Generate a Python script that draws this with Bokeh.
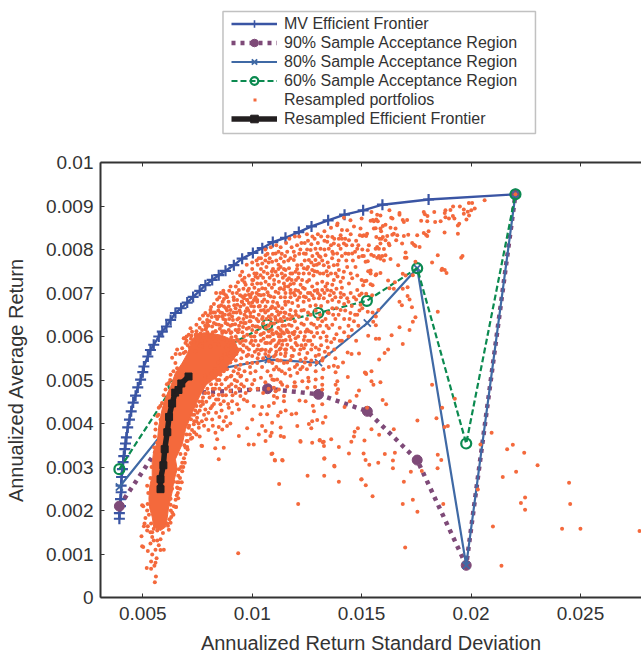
from bokeh.plotting import figure
from bokeh.embed import file_html
from bokeh.resources import INLINE
from bokeh.layouts import column
from bokeh.models import Range1d, LinearAxis, FixedTicker, Legend, LegendItem, BoxAnnotation

MV_X = [393,393,398,398,401,401,403,407,410,413,418,421,425,431,439,447,456,467,477,490,500,505,523,535,550,573,589,608,627,649,675,703,730,760,786,817,847,878,916,954,1003,1046,1094,1152,1213,1271,1347,1422,1507,1595,1806,2203]
MV_Y = [181,194,210,226,242,257,277,295,311,325,341,354,368,391,409,428,448,464,483,501,518,531,554,569,581,600,611,623,638,654,665,678,691,705,718,730,741,751,764,779,792,803,817,827,840,853,867,880,890,903,915,927]
S90_X = [393,627,730,1070,1303,1526,1754,1978,2203]
S90_Y = [210,386,470,480,467,428,316,74,927]
S80_X = [393,640,718,832,1074,1303,1526,1754,1978,2203]
S80_Y = [254,409,467,524,547,540,631,757,74,927]
S60_X = [393,640,832,1069,1302,1524,1754,1978,2203]
S60_Y = [295,487,563,627,654,682,757,354,927]
REF_X = [581,581,594,600,612,620,634,648,663,676,709]
REF_Y = [249,272,304,341,380,415,446,471,477,492,508]

# Outline of the part of the cloud where the dots merge completely.
CORE_X = [581,550,543,532,528,532,543,543,550,566,573,588,604,627,649,680,703,725,745,800,860,920,940,900,860,790,760,725,695,680,649,657,642,634,619,611,604]
CORE_Y = [154,162,185,204,227,257,280,310,337,356,394,432,459,485,516,539,560,590,607,608,603,590,565,539,516,489,463,424,386,352,318,295,268,242,211,181,162]

PORTFOLIOS = [
(1822,489),(1926,457),(1868,436),(1842,412),(1755,407),(1894,394),(1879,392),(2094,379),(2043,352),(2165,341),(2191,351),(2243,333),(1848,328),(1864,316),(2304,304),(1847,297),(2206,289),(2145,277),(2448,264),(2031,248),(2247,230),(2228,217),(2247,202),(2453,215),(1873,215),(2100,163),(2416,158),(2500,158),(2770,153),(2139,73),(1699,115),(1755,197),(1734,225),(1688,215),(1693,266),(1725,289),(1775,291),(1643,297),(1652,333),(1643,315),(1606,330),(1576,310),(1535,305),(1518,316),(1509,331),(1513,361),(1580,374),(1545,387),(1647,387),(1612,444),(1596,454),(1586,495),(1554,489),(1545,497),(1545,520),(1518,516),(1550,233),(1519,258),(1500,272),(1525,436),
(2062,913),(1990,907),(2005,907),(2017,894),(2001,890),(1967,892),(1949,899),(1918,899),(1883,890),(1906,891),(1880,884),(1832,886),(1784,886),(1789,881),(1801,877),(1772,866),(1800,865),(1836,863),(1861,865),(1883,874),(1899,871),(1917,877),(1924,871),(1967,882),(1985,887),(1991,878),(1979,869),(1946,859),(1940,855),(1940,836),(1879,839),(1806,842),(1784,838),(1794,834),(1754,833),(1800,831),(1713,834),(1765,806),(1746,808),(1731,815),(1739,811),(1701,793),(1705,781),(1698,781),(1667,764),(1746,772),(1848,787),(1822,770),(1961,785),(1955,781),(1868,756),(1865,753),(1880,753),(1888,746),(1688,744),(1701,740),(1734,741),(1621,729),(1652,725),(1627,711),(1647,710),(1688,710),(1710,713),(1710,693),(1719,685),(1730,667),(1673,680),(1684,672),(1848,657),(1746,644),(1734,634),(1719,615),(1673,621),(1688,583),(1621,570),(1605,562),(1580,547),(1637,603),(1565,595),(1580,595),(1530,602),(1565,626),(1550,655),(1528,657),(1577,661),(1565,646),(1553,634),
(1673,884),(1673,880),(1688,868),(1708,868),(1693,863),(1641,871),(1635,873),(1627,890),(1586,878),(1571,880),(1567,869),(1545,886),(1551,868),(1541,866),(1556,865),(1574,865),(1500,871),(1564,849),(1597,854),(1609,857),(1586,848),(1589,842),(1556,848),(1525,836),(1510,833),(1503,831),(1495,848),(1521,831),(1632,850),(1655,848),(1685,814),(1658,821),(1640,834),(1647,836),(1663,833),(1693,831),(1617,831),(1597,829),(1591,825),(1582,825),(1567,829),(1624,814),(1627,810),(1609,821),(1586,814),(1571,806),(1564,802),(1579,802),(1602,801),(1533,810),(1503,800),(1503,785),(1528,798),(1510,785),(1544,788),(1556,785),(1579,785),(1594,785),(1609,787),(1571,781),(1586,779),(1602,775),(1528,773),(1518,772),(1632,778),(1541,752),(1530,750),(1541,745),(1567,743),(1586,746),(1564,741),(1500,730),(1513,727),(1522,728),(1507,718),(1541,720),(1550,718),(1500,699),(1521,698),(1548,695),(1503,665),
(1436,563),(1454,560),(1488,561),(1373,533),(1392,530),(1381,518),(1437,507),(1515,517),(1521,514),(1389,497),(1381,489),(1320,505),(1290,501),(1256,505),(1258,497),(1252,482),(1229,497),(1194,495),(1198,485),(1332,565),(1323,550),(1305,558),(1361,587),(1320,489),(1320,478),(1287,484),(1392,479),(1386,470),(1488,476),(1477,464),(1446,451),(1422,438),(1320,444),(1277,441),(1282,428),(1244,451),(1216,453),(1180,421),(1201,423),(1153,430),(1130,426),(1118,418),(1099,447),(1145,451),(1335,415),(1323,402),(1297,408),(1274,405),(1259,399),(1206,394),(1130,391),(1270,389),(1130,371),(1145,369),(1089,379),(1221,358),(1274,356),(1308,361),(1323,357),(1328,348),(1361,364),(1396,346),(1453,358),(1465,370),(1468,381),(1483,389),(1442,331),(1329,319),(1375,303),(1329,280),(1253,280),(1092,331),(1104,315),(1139,315),
(1092,607),(1114,607),(1145,607),(1160,611),(1194,611),(1244,611),(1282,600),(1236,592),(1198,596),(1175,592),(1153,592),(1137,581),(1122,600),(1099,592),(1107,577),(1130,573),(1160,581),(1198,585),(1191,569),(1244,581),(1274,581),(1236,573),(1252,562),(1244,550),(1221,546),(1175,546),(1145,539),(1114,546),(1092,539),(1107,558),(1130,560),(1153,562),(1122,524),(1206,516),(1092,501),(1114,501),(1137,489),(1191,485),(1099,482),(1122,478),(1160,485),(1099,463),(1145,463),(1107,474),
(1388,856),(1419,873),(1449,867),(1465,853),(1492,833),(1434,844),(1404,833),(1366,829),(1343,818),(1373,814),(1396,825),(1442,821),(1457,810),(1480,802),(1487,783),(1457,791),(1419,814),(1404,802),(1426,791),(1388,791),(1366,795),(1350,802),(1335,787),(1312,802),(1289,802),(1297,791),(1267,799),(1251,800),(1236,791),(1259,776),(1289,776),(1312,783),(1305,768),(1282,764),(1274,753),(1297,749),(1327,764),(1350,760),(1373,764),(1396,753),(1419,749),(1381,745),(1434,760),(1472,760),(1457,734),(1442,722),(1404,726),(1373,730),(1366,719),(1343,722),(1320,726),(1297,722),(1274,715),(1297,707),(1320,707),(1343,707),(1373,700),(1404,700),(1419,696),(1480,707),(1495,673),(1434,688),(1396,680),(1366,684),(1327,688),(1305,688),(1282,688),(1259,684),(1236,692),(1251,726),(1228,730),(1213,745),(1236,757),(1206,764),(1190,776),(1175,780),(1145,772),(1130,760),(1152,753),(1107,749),(1091,741),(1107,791),(1091,772),(1061,787),(1046,768),(1053,749),(1038,741),(1015,738),(954,749),(954,730),(970,719),(1000,730),(1023,722),(1046,711),(1030,707),(1061,726),(1076,719),(1122,726),(1145,722),(1168,734),(1183,745),(1168,757),(1198,749),(1221,719),(1198,707),(1175,707),(1152,700),(1130,711),(1107,703),(1084,692),(1206,684),(1183,677),(1152,673),(1137,665),(1175,661),(1198,658),(1236,661),(1267,650),(1213,646),(1183,646),(1152,654),(1236,627),(1251,616),(1282,627),(1320,635),(1350,654),(1366,665),(1404,661),(1449,654),(1465,635),(1366,627),(1350,619),(1297,608),(1259,612),(1312,597),(1183,608),(1206,619),(1168,627),(1137,635),(1107,639),(1076,646),(1053,661),(1030,669),(1008,669),(1008,684),(1030,696),(1053,696),(985,696),(954,692),(916,684),(901,715),(939,707),(855,700),(871,686),(893,669),(924,665),(962,673),(985,677),(947,654),(970,658),(992,654),(1030,650),(1061,669),(1091,669),(1114,677),(1114,658),(848,669),(871,669),(810,654),(794,631),(833,646),(863,654),(893,650),(932,639),(909,627),(878,631),(848,627),(817,623),(787,616),(833,612),(863,612),(901,608),(939,616),(970,631),(992,635),(1015,623),(962,600),(1076,612),(1038,604),(962,688),(977,684),(992,690),(1015,690),(1000,678),(1023,684),(1046,680),(954,680),(977,665),(1008,658),(932,673),
(725,611),(687,596),(695,585),(680,573),(649,539),(657,527),(627,512),(619,493),(604,478),(588,447),(573,436),(566,417),(581,409),(558,386),(566,356),(710,604),(741,604),(764,607),(946,535),(977,539),(1000,539),(1038,569),(1061,569),(1083,585),(1099,554),(1076,543),(1099,524),(1023,539),(992,516),(946,508),(901,508),(878,501),(855,512),(893,485),(931,497),(962,485),(992,478),(962,455),(977,451),(946,463),(924,470),(908,451),(931,444),(893,436),(870,451),(847,466),(855,444),(817,440),(771,451),(786,432),(817,409),(748,413),(733,398),(710,390),(756,390),(726,367),(703,346),(771,348),(832,379),(847,392),(863,386),(885,394),(908,424),(939,432),(939,371),(977,389),(1038,421),(1068,421),(1000,409),(1045,394),(1030,375),(1061,383),(1091,402),(1114,459),(1076,440),(1045,438),(1007,440),(984,352),(1061,360),(840,364),(870,344),(1007,352),(1083,371),
(936,102),(1210,215),(1123,261),(1396,266),(1376,301),(1330,320),(847,318),(831,343),(768,349),(1103,316),(1137,316),(1088,330),(1220,360),(1309,362),(1327,358),(1498,271),(662,228),(651,208),(657,265),(660,251),(497,212),
(672,330),(665,295),(642,266),(665,265),(657,253),(634,250),(627,227),(652,208),(627,213),(627,172),(619,156),(592,148),(566,154),(523,164),(505,164),(508,170),(512,183),(520,200),(502,210),(520,257),(494,141),(497,118),(502,116),(523,107),(543,99),(558,110),(581,109),(596,110),(573,120),(566,131),(581,134),(543,139),(550,131),(535,124),(563,90),(538,83),(558,80),(553,73),(518,68),(538,66),(560,48),(555,35),(543,150),(520,154),(535,150),(550,158),
(692,596),(718,619),(745,627),(786,654),(809,661),(847,669),(870,699),(863,646),(901,661),(931,684),(748,585),(771,615),(794,638),(825,631),(847,646),(878,638),(908,646),(939,642),(946,669),(977,684),(992,695),(1023,680),(802,600),(832,612),(863,608),(893,615),(924,615),(962,631),(992,646),(718,585),(657,570),(687,562),(634,551),(741,566),(771,577),(809,577),(847,581),(885,589),(931,593),(977,604),(1023,623),(1053,608),(992,585),(946,570),(901,562),(1023,570),
(760,640),(775,648),(815,645),(830,655),(840,640),(855,655),(875,650),(885,660),(895,640),(915,655),(925,600),(940,625),(955,610),(960,640),(975,645),(985,620),(1000,615),(1010,600),(1020,640),(1035,620),(1050,630),(1065,640),(1070,600),(1090,615),(1100,630),(1120,620),(800,625),(820,610),(840,600),(860,625),(880,610),(900,625),(915,590),(935,570),(955,590),(975,575),(995,600),(1015,590),(1040,590),(1060,585),(1080,600),(1120,585),(1140,610),(1160,640),(1180,625),(1120,650),(1090,650),(1040,660),(1000,700),(960,710),(930,700),(910,700),(885,690),(865,680),(840,685),(825,675),(1070,680),(1100,690),(1130,690),(1150,690),(1165,680),(1190,700),(1220,700),(1240,710),(1260,730),(1280,740),(1325,745),(1345,740),(1150,740),(1100,730),(1060,710),(1080,735),(1020,745),(1000,755),(975,765),(1025,765),(1075,770),(1130,780),(1160,795),(1215,790),(1240,775),(1260,745),(1200,730),(1175,720),
(980,705),(1010,712),(1040,722),(1070,702),(1090,712),(1120,700),(1145,708),(1165,715),(1190,722),(1210,705),(1232,712),(1255,700),(1275,695),(1300,700),(1330,700),(1355,695),(1385,710),(1410,712),(1450,700),(1010,745),(1040,755),(1065,760),(1095,755),(1120,765),(1145,755),(1175,745),(1205,755),(1225,765),(1255,760),(1285,750),(1310,745),(1340,750),(1360,745),(1390,738),(1415,735),(1450,745),(1480,740),(1080,780),(1110,775),(1135,790),(1165,775),(1195,785),(1220,800),(1245,790),(1275,785),(1305,785),(1330,800),(1365,780),(1395,775),(1430,775),(1460,775),(1180,805),(1205,810),(1240,815),(1270,812),(1300,815),(1330,820),(1360,810),(1395,810),(1425,825),(1450,835),(1475,820),(1410,845),(1120,670),(1150,680),(1175,690),(1210,670),(1235,680),(1265,670),(1290,672),(1315,670),(1345,680),(1385,665),(1420,675),(1455,670),(1475,685),(1085,630),(1130,640),(1150,625),(1175,640),(1195,635),(1225,630),(1250,640),(1270,630),(1300,640),(1335,640),(1380,640),(1420,640),(1440,625),(1400,620),(1210,600),(1225,580),(1265,590),(1290,575),(1315,580),(1345,575),(1375,570),(1410,590),(1440,600),(1475,590),(1110,530),(1135,520),(1170,525),(1195,530),(1220,525),(1250,525),(1290,520),(1325,525),(1350,530),(1205,535),
(900,540),(925,545),(950,550),(975,555),(1000,555),(1025,550),(1050,550),(1075,555),(1120,545),(860,530),(885,525),(915,520),(940,525),(965,520),(990,530),(1015,520),(1045,530),(1070,520),(1085,510),(840,500),(860,490),(880,480),(905,490),(925,485),(950,490),(975,500),(1010,500),(1040,505),(1060,495),(830,480),(850,480),(800,470),(820,465),(835,455),(785,470),(765,440),(780,420),(800,425),(745,440),(735,420),(720,410),(735,380),(720,365),(700,360),(695,330),(680,310),(680,290),(670,275),(655,235),(640,190),(630,185),(615,165),(835,425),(860,430),(880,415),(900,400),
(640,520),(625,500),(610,490),(595,465),(580,440),(572,420),(560,400),(555,370),(552,345),(540,300),(535,275),(525,240),(522,215),(528,190),(538,170),(650,560),(670,560),(695,565),(715,575),(730,590),(700,600),(720,595),(760,600),(780,605),(810,600),(830,590),(860,595),(880,575),(905,580),(935,590),(960,580),(985,570),(1005,580),(1030,560),(1060,560),(1085,570),(1110,580),(1130,600),
(705,580),(722,602),(735,588),(752,598),(768,590),(745,612),(760,620),(775,632),(790,620),(795,610),(760,578),(785,590),(700,590),
(785,625),(798,648),(805,635),(812,668),(822,655),(835,628),(845,660),(852,618),(858,672),(868,640),(872,612),(880,665),(888,628),(892,680),(898,652),(905,610),(912,638),(918,672),(922,628),(928,655),(935,610),(942,660),(948,632),(952,680),(958,622),(965,650),(968,695),(975,618),(982,660),(988,635),(995,670),(1002,625),(1005,645),(1012,685),(1018,610),(1028,635),(1035,670),(1042,605),(1048,645),(1055,685),(1062,620),(1072,660),(1085,640),(1095,605),(1105,645),(1118,635),(1128,605),(1138,625),(1148,655),(1158,615),
(835,700),(850,690),(868,705),(880,695),(895,705),(915,690),(925,715),(945,695),(965,725),(985,710),(1000,720),(1020,700),(1040,695),(1075,695),(1095,680),
(905,598),(920,575),(928,560),(945,585),(958,565),(970,590),(982,558),(998,590),(1012,565),(1028,580),(1045,570),(1052,595),(1068,585),(1078,565),(1092,590),(1110,565),(1125,570),(1140,590),(1155,570),(1170,600),
(895,555),(910,550),(872,525),(848,515),(830,505),(812,490),(795,480),(775,460),(758,450),(740,430),(725,420),(712,395),(700,375),(690,350),(688,320),(675,300),(662,280),
(770,495),(785,510),(800,500),(815,515),(830,525),(845,540),(860,550),(875,560),(890,570),(910,565),(925,530),(905,510),(885,505),(870,520),(850,500),(835,490),(820,480),(805,460),(790,450),(775,445),(760,430),(750,425),(745,405),(735,405),(725,385),(715,375),(705,360),(705,340),(695,345),(692,310),(685,300),(678,265),(670,250),(660,240),(650,225),(642,210),(635,195),(628,200),(622,180),(612,170),
(950,510),(935,515),(920,500),(900,475),(880,465),(865,465),(845,455),(825,445),(810,435),(790,410),(770,405),(755,400),(745,375),(760,370),(780,395),(800,385),(820,395),(850,415),(870,405),(890,445),(910,465),(940,480),(970,470),(1000,490),(1025,480),(1050,470),(1075,480),(1100,500),(1130,495),(1150,515),(1175,510),(1160,540),(1185,555),(1215,560),(1240,540),(1270,545),(1295,540),(1320,545),(1350,560),(1380,550),(1415,540),
(1005,730),(1025,735),(1050,735),(1070,745),(1090,750),(1115,740),(1135,745),(1160,730),(1180,730),(1210,735),(1235,745),(1250,755),(1270,770),(1295,765),(1320,775),(1345,770),(1370,790),(1390,765),(1410,785),(1440,790),(1470,795),(1485,810),(1430,810),(1410,825),(1375,825),(1345,830),(1315,830),(1285,825),(1255,820),(1225,815),(1190,795),(1150,785),(1120,795),(1095,790),(1070,790),(1060,775),(1040,780),(1020,775),(1000,770),(1120,755),(1140,735),(1100,720),(1125,710),(1150,715),(1175,700),(1195,695),(1215,690),(1245,690),(1265,700),(1285,705),(1310,695),(1335,715),(1360,705),(1380,690),(1405,690),(1440,680),(1465,690),(1490,695),(1490,660),(1470,650),(1445,640),(1425,660),(1395,650),(1370,650),(1345,655),(1310,650),(1290,660),(1255,655),(1225,660),(1200,650),(1170,650),(1145,645),(1130,655),(1105,665),(1085,665),(1060,655),(1045,640),(1075,625),(1110,610),(1130,615),(1165,610),(1190,605),(1220,610),(1240,600),(1270,610),(1295,620),(1325,610),(1340,600),(1385,605),(1420,610),(1455,615),(1485,625),(1480,650),(1310,625),(1340,625),
(1400,590),(1375,595),(1340,590),(1305,570),(1270,570),(1255,590),(1220,570),(1205,580),(1180,575),(1150,570),(1125,590),(1180,555),(1150,555),(1130,545),(1290,555),(1265,535),(1230,530),
(935,725),(945,740),(965,735),(985,740),(1030,780),(1060,800),(1085,805),(1110,810),(1130,805),(1155,815),(1170,825),(1195,830),(1215,830),(1250,835),(1275,830),(1300,835),(1330,842),(1360,850),(1390,860),
(2203,927),
]

X_TICKS = [0.005, 0.01, 0.015, 0.02, 0.025]
Y_TICKS = [0, 0.001, 0.002, 0.003, 0.004, 0.005, 0.006, 0.007, 0.008, 0.009, 0.01]
X_TICK_LABELS = ["0.005", "0.01", "0.015", "0.02", "0.025"]
Y_TICK_LABELS = ["0", "0.001", "0.002", "0.003", "0.004", "0.005", "0.006", "0.007", "0.008", "0.009", "0.01"]
NAMES = ["MV Efficient Frontier", "90% Sample Acceptance Region", "80% Sample Acceptance Region",
         "60% Sample Acceptance Region", "Resampled portfolios", "Resampled Efficient Frontier"]

E = 1e-5
def sc(a):
    return [v * E for v in a]

FONT = "Liberation Sans"
INK = "#333333"
ORANGE = "#F4693C"
BLUE = "#3A55A4"
STEEL = "#3F69A5"
PURPLE = "#7E4A78"
GREEN = "#0B8A50"
BLACK = "#231F20"

p = figure(width=641, height=504, output_backend="svg", toolbar_location=None,
           x_range=Range1d(0.003067, 0.02779), y_range=Range1d(0, 0.01),
           min_border_left=100, min_border_right=0, min_border_top=10, min_border_bottom=57,
           x_axis_label="Annualized Return Standard Deviation", y_axis_label="Annualized Average Return")
p.grid.visible = False
p.outline_line_color = None

def style(ax):
    ax.axis_line_color = INK
    ax.axis_line_width = 2
    ax.major_tick_line_color = INK
    ax.major_tick_line_width = 1
    ax.major_tick_in = 4
    ax.major_tick_out = 0
    ax.minor_tick_line_color = None
    ax.major_label_text_font = FONT
    ax.major_label_text_font_size = "19px"
    ax.major_label_text_color = INK
    ax.major_label_text_line_height = 1
    ax.axis_label_text_font = FONT
    ax.axis_label_text_font_size = "20px"
    ax.axis_label_text_font_style = "normal"
    ax.axis_label_text_color = INK
    ax.axis_label_text_line_height = 1

xa = p.xaxis[0]
ya = p.yaxis[0]
style(xa)
style(ya)
xa.ticker = FixedTicker(ticks=X_TICKS)
xa.major_label_overrides = dict(zip(X_TICKS, X_TICK_LABELS))
ya.ticker = FixedTicker(ticks=Y_TICKS)
ya.major_label_overrides = dict(zip(Y_TICKS, Y_TICK_LABELS))
xa.major_label_standoff = 9
xa.axis_label_standoff = 9
ya.major_label_standoff = 7
ya.axis_label_standoff = 16

top = LinearAxis(ticker=FixedTicker(ticks=X_TICKS))
style(top)
top.major_label_text_color = None
top.major_label_text_font_size = "1px"
top.major_label_standoff = 0
top.major_label_overrides = {t: " " for t in X_TICKS}
p.add_layout(top, "above")

p.line(sc(MV_X), sc(MV_Y), line_color=BLUE, line_width=2.4)
p.scatter(sc(MV_X), sc(MV_Y), marker="cross", size=11, line_color=BLUE, line_width=2.2)
p.line(sc(S90_X), sc(S90_Y), line_color=PURPLE, line_width=4.5, line_dash="4 5")
p.scatter(sc(S90_X), sc(S90_Y), marker="circle", size=10, color=PURPLE)
p.line(sc(S80_X), sc(S80_Y), line_color=STEEL, line_width=2.2)
p.scatter(sc(S80_X), sc(S80_Y), marker="x", size=10, line_color=STEEL, line_width=1.8)
p.line(sc(S60_X), sc(S60_Y), line_color=GREEN, line_width=2.2, line_dash="6 3")
p.scatter(sc(S60_X), sc(S60_Y), marker="circle", size=10, line_color=GREEN, line_width=2.2, fill_color=None)

p.patch(sc(CORE_X), sc(CORE_Y), fill_color=ORANGE, line_color=ORANGE)
p.scatter([a * E for a, b in PORTFOLIOS], [b * E for a, b in PORTFOLIOS],
          marker="circle", size=4, color=ORANGE, line_width=0)
p.line(sc(REF_X), sc(REF_Y), line_color=BLACK, line_width=5.5)
p.scatter(sc(REF_X), sc(REF_Y), marker="square", size=7, color=BLACK)

# The legend sits in a strip of its own above the plot; its key glyphs lie outside the strip's range.
head = figure(width=641, height=152, output_backend="svg", toolbar_location=None,
              x_range=Range1d(0, 1), y_range=Range1d(0, 1),
              min_border_left=0, min_border_right=0, min_border_top=0, min_border_bottom=0)
head.axis.visible = False
head.grid.visible = False
head.outline_line_color = None
KX, KY = [-2, -1], [-2, -1]
k_mv = [head.line(KX, KY, line_color=BLUE, line_width=2.4), head.scatter(KX, KY, marker="cross", size=11, line_color=BLUE, line_width=1.6)]
k_90 = [head.line(KX, KY, line_color=PURPLE, line_width=4.5, line_dash="4 5"), head.scatter(KX, KY, marker="circle", size=10, color=PURPLE)]
k_80 = [head.line(KX, KY, line_color=STEEL, line_width=2.2), head.scatter(KX, KY, marker="x", size=10, line_color=STEEL, line_width=1.8)]
k_60 = [head.line(KX, KY, line_color=GREEN, line_width=2.2, line_dash="6 3"), head.scatter(KX, KY, marker="circle", size=10, line_color=GREEN, line_width=2.2, fill_color=None)]
k_pt = [head.line(KX, KY, line_color=ORANGE, line_width=3, line_dash="0 22 3 40")]
k_rf = [head.line(KX, KY, line_color=BLACK, line_width=5.5), head.scatter(KX, KY, marker="square", size=7, color=BLACK)]
head.add_layout(BoxAnnotation(left=0.2264, right=0.804, bottom=0.125, top=0.9276,
                              fill_color="white", fill_alpha=1, line_color=INK, line_width=1.5))
legend = Legend(items=[LegendItem(label=n, renderers=r) for n, r in zip(NAMES, [k_mv, k_90, k_80, k_60, k_pt, k_rf])],
                location=(131, 24), orientation="vertical")
legend.label_text_font = FONT
legend.label_text_font_size = "16px"
legend.label_text_color = INK
legend.label_height = 19
legend.glyph_height = 19
legend.glyph_width = 46
legend.label_standoff = 7
legend.spacing = 0
legend.padding = 0
legend.margin = 0
legend.border_line_color = None
legend.background_fill_color = None
head.add_layout(legend, "center")

page = column(head, p, spacing=0)
open("out.html", "w").write(file_html(page, INLINE))
